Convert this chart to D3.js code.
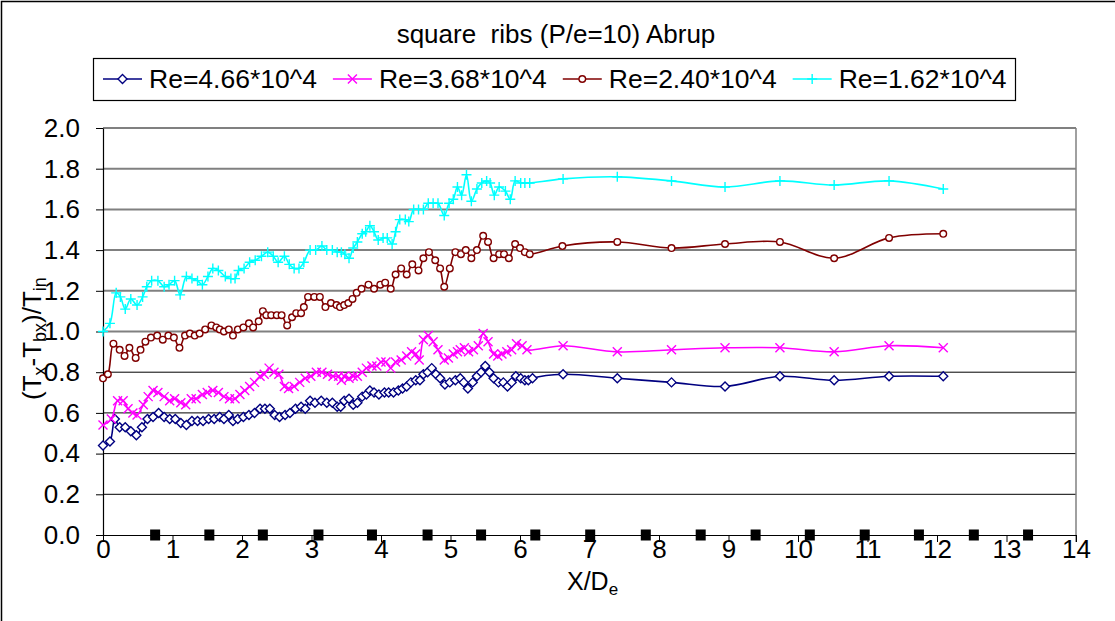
<!DOCTYPE html>
<html>
<head>
<meta charset="utf-8">
<script src="https://cdn.jsdelivr.net/npm/d3@7"></script>
<style>
	body { margin: 0; background: #fff; }
	svg { display: block; font-family: "Liberation Sans", Arial, sans-serif; }
</style>
</head>
<body>
<svg id="chart" width="1115" height="621"></svg>
<script>

var xTicks = [0, 1, 2, 3, 4, 5, 6, 7, 8, 9, 10, 11, 12, 13, 14];
var yTicks = [0, 0.2, 0.4, 0.6, 0.8, 1.0, 1.2, 1.4, 1.6, 1.8, 2.0];

var titleText = "square\u00A0 ribs (P/e=10) Abrup";
var seriesNames = ["Re=4.66*10^4", "Re=3.68*10^4", "Re=2.40*10^4", "Re=1.62*10^4"];

// Re = 4.66*10^4
var re466X = [0, 0.10, 0.17, 0.24, 0.32, 0.40, 0.48, 0.56, 0.64, 0.72, 0.80, 0.88, 0.96, 1.04, 1.12, 1.20, 1.28, 1.36, 1.44, 1.52, 1.60,
	1.68, 1.74, 1.81, 1.87, 1.94, 2.02, 2.10, 2.18, 2.26, 2.33, 2.40, 2.47, 2.54, 2.62, 2.69, 2.77, 2.85, 2.91, 2.98, 3.05, 3.14, 3.22, 3.30, 3.37,
	3.42, 3.47, 3.54, 3.60, 3.66, 3.73, 3.79, 3.84, 3.90, 3.97, 4.05, 4.11, 4.18, 4.25, 4.31, 4.37, 4.43, 4.50, 4.56, 4.61, 4.67, 4.73, 4.79, 4.85, 4.92, 4.99, 5.07,
	5.14, 5.19, 5.25, 5.32, 5.38, 5.44, 5.50, 5.56, 5.62, 5.69, 5.76, 5.82, 5.88, 5.94, 6.01, 6.07, 6.12, 6.18,
	6.62, 7.40, 8.18, 8.95, 9.74, 10.52, 11.31, 12.09];
var re466Y = [0.44, 0.46, 0.57, 0.53, 0.53, 0.51, 0.49, 0.53, 0.57, 0.58, 0.60, 0.58, 0.57, 0.57, 0.55, 0.54, 0.56, 0.56, 0.56, 0.57, 0.57,
	0.58, 0.57, 0.59, 0.56, 0.57, 0.58, 0.59, 0.60, 0.62, 0.62, 0.62, 0.59, 0.58, 0.59, 0.60, 0.62, 0.63, 0.62, 0.66, 0.65, 0.66, 0.65, 0.65, 0.63,
	0.63, 0.66, 0.67, 0.64, 0.65, 0.68, 0.69, 0.71, 0.70, 0.69, 0.70, 0.70, 0.70, 0.71, 0.72, 0.73, 0.75, 0.76, 0.76, 0.79, 0.80, 0.82, 0.79, 0.77, 0.74, 0.75, 0.76,
	0.77, 0.75, 0.72, 0.75, 0.78, 0.80, 0.83, 0.80, 0.77, 0.75, 0.75, 0.73, 0.75, 0.78, 0.77, 0.76, 0.76, 0.77,
	0.79, 0.77, 0.75, 0.73, 0.78, 0.76, 0.78, 0.78];

// Re = 3.68*10^4
var re368X = [0, 0.12, 0.21, 0.29, 0.36, 0.43, 0.49, 0.58, 0.65, 0.72, 0.79, 0.88, 0.96, 1.03, 1.12, 1.19, 1.27, 1.34, 1.43, 1.50, 1.58, 1.66,
	1.74, 1.82, 1.90, 1.97, 2.04, 2.11, 2.18, 2.26, 2.32, 2.39, 2.46, 2.53, 2.61, 2.67, 2.75, 2.83, 2.91, 2.99, 3.07, 3.15, 3.23, 3.31, 3.39,
	3.43, 3.47, 3.54, 3.60, 3.66, 3.73, 3.79, 3.87, 3.94, 4.00, 4.07, 4.14, 4.21, 4.29, 4.37, 4.44, 4.50, 4.55, 4.61, 4.68, 4.75, 4.82, 4.91, 4.97, 5.04, 5.10,
	5.14, 5.20, 5.26, 5.33, 5.40, 5.47, 5.54, 5.62, 5.68, 5.74, 5.81, 5.88, 5.95, 6.03, 6.10,
	6.62, 7.40, 8.18, 8.95, 9.74, 10.52, 11.31, 12.09];
var re368Y = [0.54, 0.57, 0.66, 0.66, 0.62, 0.60, 0.59, 0.64, 0.68, 0.71, 0.70, 0.68, 0.66, 0.67, 0.65, 0.64, 0.67, 0.67, 0.69, 0.70, 0.71, 0.70,
	0.68, 0.67, 0.67, 0.69, 0.71, 0.73, 0.75, 0.78, 0.79, 0.82, 0.80, 0.79, 0.73, 0.72, 0.73, 0.75, 0.77, 0.78, 0.80, 0.80, 0.79, 0.78, 0.78,
	0.76, 0.78, 0.77, 0.78, 0.78, 0.80, 0.82, 0.83, 0.83, 0.85, 0.85, 0.82, 0.85, 0.86, 0.88, 0.90, 0.89, 0.86, 0.96, 0.98, 0.95, 0.91, 0.86, 0.87, 0.89, 0.90,
	0.91, 0.92, 0.90, 0.91, 0.93, 0.99, 0.95, 0.89, 0.88, 0.89, 0.90, 0.91, 0.94, 0.93, 0.91,
	0.93, 0.90, 0.91, 0.92, 0.92, 0.90, 0.93, 0.92];

// Re = 2.40*10^4
var re240X = [0, 0.07, 0.15, 0.24, 0.31, 0.38, 0.47, 0.54, 0.61, 0.69, 0.78, 0.86, 0.94, 1.02, 1.10, 1.18, 1.25, 1.32, 1.39, 1.47, 1.56, 1.63,
	1.68, 1.74, 1.81, 1.87, 1.94, 2.02, 2.10, 2.16, 2.24, 2.30, 2.35, 2.42, 2.50, 2.57, 2.65, 2.72, 2.78, 2.85, 2.89, 2.95, 3.04, 3.12, 3.20, 3.28, 3.36,
	3.41, 3.47, 3.53, 3.59, 3.65, 3.72, 3.82, 3.90, 3.99, 4.06, 4.14, 4.21, 4.29, 4.37, 4.45, 4.54, 4.61, 4.69, 4.78, 4.85, 4.91, 4.99, 5.07, 5.15,
	5.22, 5.30, 5.38, 5.47, 5.54, 5.62, 5.70, 5.77, 5.84, 5.93, 6.00, 6.07, 6.14,
	6.61, 7.40, 8.18, 8.95, 9.74, 10.52, 11.31, 12.09];
var re240Y = [0.77, 0.79, 0.94, 0.91, 0.88, 0.92, 0.87, 0.91, 0.95, 0.97, 0.98, 0.96, 0.98, 0.97, 0.92, 0.98, 0.99, 0.98, 0.99, 1.01, 1.03, 1.02,
	1.01, 1.00, 1.01, 0.98, 1.01, 1.02, 1.04, 1.02, 1.05, 1.10, 1.08, 1.08, 1.08, 1.08, 1.03, 1.07, 1.09, 1.09, 1.12, 1.17, 1.17, 1.17, 1.12, 1.14, 1.13,
	1.12, 1.13, 1.14, 1.16, 1.19, 1.21, 1.23, 1.21, 1.23, 1.24, 1.21, 1.28, 1.31, 1.28, 1.33, 1.30, 1.36, 1.39, 1.35, 1.31, 1.22, 1.31, 1.39, 1.38,
	1.40, 1.36, 1.40, 1.47, 1.44, 1.36, 1.38, 1.38, 1.36, 1.43, 1.41, 1.39, 1.38,
	1.42, 1.44, 1.41, 1.43, 1.44, 1.36, 1.46, 1.48];

// Re = 1.62*10^4
var re162X = [0, 0.10, 0.19, 0.25, 0.32, 0.40, 0.49, 0.57, 0.63, 0.70, 0.79, 0.88, 0.95, 1.03, 1.11, 1.20, 1.28, 1.36, 1.43, 1.51, 1.58, 1.66,
	1.76, 1.84, 1.90, 1.95, 2.03, 2.11, 2.19, 2.28, 2.37, 2.45, 2.52, 2.61, 2.68, 2.75, 2.82, 2.89, 2.98, 3.06, 3.15, 3.22, 3.30, 3.37,
	3.43, 3.48, 3.54, 3.60, 3.66, 3.73, 3.78, 3.84, 3.90, 3.96, 4.03, 4.09, 4.16, 4.21, 4.27, 4.35, 4.40, 4.47, 4.54, 4.61, 4.68, 4.75, 4.82, 4.91, 4.98, 5.04, 5.10, 5.16,
	5.23, 5.30, 5.38, 5.45, 5.52, 5.57, 5.63, 5.70, 5.79, 5.86, 5.93, 6.01, 6.07, 6.14,
	6.62, 7.40, 8.18, 8.95, 9.74, 10.52, 11.31, 12.09];
var re162Y = [1.00, 1.04, 1.19, 1.17, 1.11, 1.16, 1.13, 1.17, 1.22, 1.25, 1.25, 1.22, 1.23, 1.25, 1.18, 1.27, 1.26, 1.25, 1.23, 1.27, 1.31, 1.30,
	1.27, 1.26, 1.26, 1.30, 1.31, 1.34, 1.35, 1.37, 1.39, 1.37, 1.34, 1.37, 1.33, 1.31, 1.31, 1.34, 1.40, 1.40, 1.42, 1.40, 1.40, 1.39,
	1.39, 1.38, 1.36, 1.41, 1.44, 1.48, 1.49, 1.52, 1.49, 1.45, 1.46, 1.46, 1.43, 1.49, 1.55, 1.55, 1.54, 1.60, 1.60, 1.60, 1.63, 1.63, 1.63, 1.57, 1.63, 1.65, 1.71, 1.67,
	1.77, 1.64, 1.70, 1.73, 1.74, 1.73, 1.67, 1.71, 1.69, 1.65, 1.74, 1.73, 1.73, 1.73,
	1.75, 1.76, 1.74, 1.71, 1.74, 1.72, 1.74, 1.70];

// rib positions, drawn on the x axis
var ribX = [0.75, 1.53, 2.30, 3.10, 3.87, 4.67, 5.44, 6.22, 7.01, 7.81, 8.60, 9.39, 10.17, 10.96, 11.74, 12.53, 13.31];

var svg = d3.select("#chart");

var xScale = d3.scaleLinear().domain([0, 14]).range([103, 1076]);
var yScale = d3.scaleLinear().domain([0, 2]).range([535, 128]);

// chart border (right and bottom edges fall outside the picture)
svg.append("rect")
	.attr("x", 1.5).attr("y", 1.5)
	.attr("width", 1300).attr("height", 900)
	.attr("fill", "none")
	.attr("stroke", "#000")
	.attr("stroke-width", 1.5);

// title
svg.append("text")
	.attr("x", 556).attr("y", 43)
	.attr("text-anchor", "middle")
	.attr("font-size", 26)
	.text(titleText);

// gridlines
svg.append("g")
	.selectAll("line")
	.data(yTicks.filter(d => d > 0))
	.enter()
	.append("line")
	.attr("x1", xScale(0)).attr("x2", xScale(14))
	.attr("y1", d => yScale(d)).attr("y2", d => yScale(d))
	.attr("stroke", d => d >= 1 ? "#808080" : "#000")
	.attr("stroke-width", d => d >= 1 ? 2 : 1);

// right edge of plot area
svg.append("line")
	.attr("x1", xScale(14)).attr("x2", xScale(14))
	.attr("y1", yScale(2)).attr("y2", yScale(0) + 7)
	.attr("stroke", "#808080")
	.attr("stroke-width", 1.5);

svg.append("g")
	.attr("transform", "translate(" + xScale(0) + ",0)")
	.call(d3.axisLeft(yScale).tickValues(yTicks).tickFormat(d3.format(".1f")).tickSize(7).tickSizeOuter(0).tickPadding(16));

svg.append("g")
	.attr("transform", "translate(0," + yScale(0) + ")")
	.call(d3.axisBottom(xScale).tickValues(xTicks).tickFormat(d3.format("d")).tickSize(7).tickSizeOuter(0).tickPadding(-2));

svg.selectAll(".domain").attr("stroke", "#000").attr("stroke-width", 1.2);
svg.selectAll(".tick line").attr("stroke", "#000");
svg.selectAll(".tick text")
	.attr("font-family", "Liberation Sans, Arial, sans-serif")
	.attr("font-size", 26)
	.attr("fill", "#000");

// axis titles
var xTitle = svg.append("text")
	.attr("x", 567).attr("y", 590)
	.attr("font-size", 25);
xTitle.append("tspan").text("X/D");
xTitle.append("tspan").attr("font-size", 17).attr("dy", 5).text("e");

var yTitle = svg.append("text")
	.attr("transform", "translate(41,400) rotate(-90)")
	.attr("font-size", 26);
yTitle.append("tspan").text("(T");
yTitle.append("tspan").attr("font-size", 18).attr("dy", 5).text("x");
yTitle.append("tspan").attr("dy", -5).text("-T");
yTitle.append("tspan").attr("font-size", 18).attr("dy", 5).text("bx");
yTitle.append("tspan").attr("dy", -5).text(")/T");
yTitle.append("tspan").attr("font-size", 18).attr("dy", 5).text("in");

// series
var series = [
	{name: seriesNames[0], xs: re466X, ys: re466Y, color: "#000080", marker: "diamond"},
	{name: seriesNames[1], xs: re368X, ys: re368Y, color: "#FF00FF", marker: "cross"},
	{name: seriesNames[2], xs: re240X, ys: re240Y, color: "#800000", marker: "circle"},
	{name: seriesNames[3], xs: re162X, ys: re162Y, color: "#00FFFF", marker: "plus"}
];

var markerPaths = {
	diamond: "M0,-4.5L4.5,0L0,4.5L-4.5,0Z",
	cross: "M-4.5,-4.5L4.5,4.5M-4.5,4.5L4.5,-4.5",
	circle: "M3.3,0A3.3,3.3 0 1,1 -3.3,0A3.3,3.3 0 1,1 3.3,0Z",
	plus: "M-5,0L5,0M0,-5L0,5"
};

var line = d3.line()
	.x(d => xScale(d[0]))
	.y(d => yScale(d[1]))
	.curve(d3.curveCatmullRom.alpha(0.5));

function drawMarker(sel, s) {
	sel.append("path")
		.attr("d", markerPaths[s.marker])
		.attr("fill", (s.marker == "diamond" || s.marker == "circle") ? "#fff" : "none")
		.attr("stroke", s.color)
		.attr("stroke-width", 1.4);
}

series.forEach(function(s) {

	var pts = s.xs.map((v, i) => [v, s.ys[i]]);

	var g = svg.append("g");

	g.append("path")
		.datum(pts)
		.attr("d", line)
		.attr("fill", "none")
		.attr("stroke", s.color)
		.attr("stroke-width", 1.6);

	g.selectAll("g.pt")
		.data(pts)
		.enter()
		.append("g")
		.attr("class", "pt")
		.attr("transform", d => "translate(" + xScale(d[0]) + "," + yScale(d[1]) + ")")
		.each(function() { drawMarker(d3.select(this), s); });

});

// ribs
svg.append("g")
	.selectAll("rect")
	.data(ribX)
	.enter()
	.append("rect")
	.attr("x", d => xScale(d) - 5)
	.attr("y", yScale(0) - 5.5)
	.attr("width", 10)
	.attr("height", 11)
	.attr("fill", "#000");

// legend
var legend = svg.append("g");

legend.append("rect")
	.attr("x", 93.5).attr("y", 58.5)
	.attr("width", 922).attr("height", 42)
	.attr("fill", "#fff")
	.attr("stroke", "#000")
	.attr("stroke-width", 1.2);

var lx = 103;
var ly = 79;

series.forEach(function(s) {

	legend.append("line")
		.attr("x1", lx).attr("x2", lx + 39)
		.attr("y1", ly).attr("y2", ly)
		.attr("stroke", s.color)
		.attr("stroke-width", 1.6);

	drawMarker(legend.append("g").attr("transform", "translate(" + (lx + 19.5) + "," + ly + ")"), s);

	var t = legend.append("text")
		.attr("x", lx + 46).attr("y", ly + 9)
		.attr("font-size", 26.5)
		.text(s.name);

	lx = lx + 46 + t.node().getComputedTextLength() + 16;

});

</script>
</body>
</html>
